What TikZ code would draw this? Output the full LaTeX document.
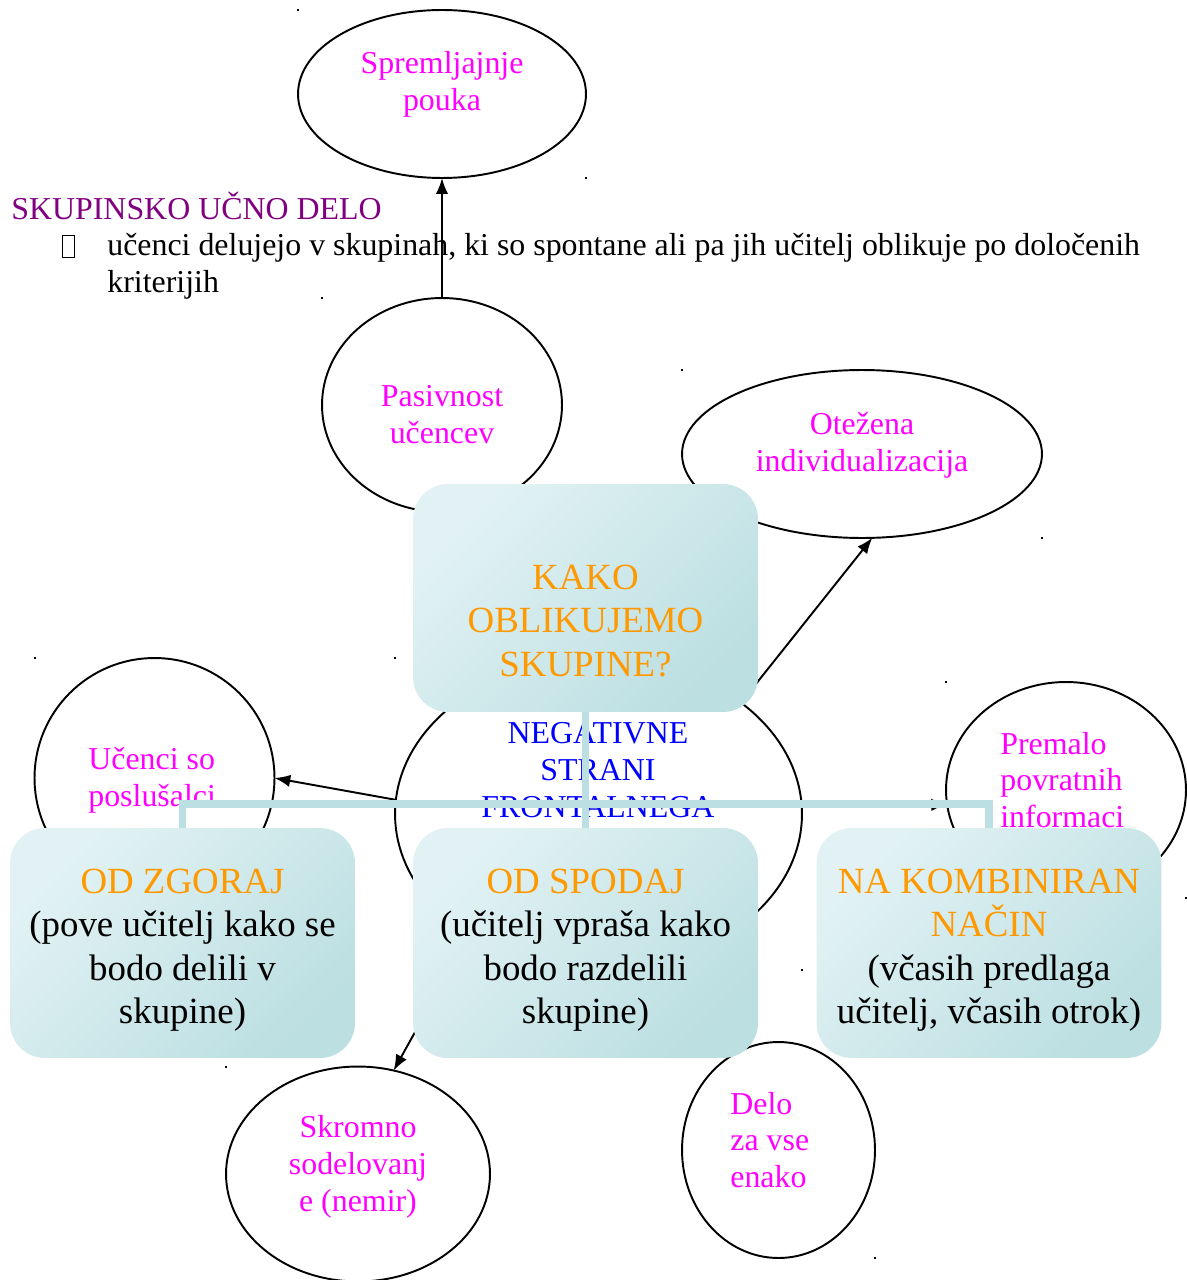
\documentclass[tikz,border=0pt]{standalone}
\usepackage{fontspec}
\setmainfont{Liberation Serif}
\usetikzlibrary{shapes.geometric, arrows.meta}
\definecolor{ngmagenta}{RGB}{255, 0, 255}
\definecolor{ngorange}{RGB}{255, 153, 0}
\definecolor{ngblue}{RGB}{0, 0, 255}
\definecolor{ngpurple}{RGB}{128, 0, 128}
\definecolor{boxlight}{RGB}{226, 242, 244}
\definecolor{boxdark}{RGB}{188, 223, 226}
\definecolor{linkteal}{RGB}{187, 223, 226}
\newcommand{\ellfont}{\fontsize{18.15pt}{21pt}\selectfont}
\newcommand{\boxfont}{\fontsize{21pt}{24.6pt}\selectfont}
\pgfdeclarelayer{bg}
\pgfdeclarelayer{links}
\pgfsetlayers{bg,links,main}

\begin{document}
\begin{tikzpicture}[x=0.02cm, y=-0.02cm,
  bubble/.style={ellipse, draw=black, line width=1.1pt, inner sep=0pt, outer sep=0pt},
  bubbletext/.style={font=\ellfont, text=ngmagenta, inner sep=0pt},
  groupbox/.style={rounded corners=0.7cm, top color=boxlight, bottom color=boxdark, shading angle=45,
    minimum width=6.9cm, inner sep=0pt, font=\boxfont, align=center},
  linkline/.style={draw=linkteal, line width=4.5pt, line join=miter},
  arrowline/.style={line width=1.1pt, -{Latex[length=9pt, width=7pt]}},
  cornerdot/.style={fill=black}]
\useasboundingbox (0,0) rectangle (1186,1280);

% Boxes (top layer)
\node[groupbox, minimum height=4.56cm] (kako) at (585.5,598) {};
\node[font=\boxfont, text=ngorange, align=center, inner sep=0pt] (kakotxt) at (585.5,621) {KAKO\\OBLIKUJEMO\\SKUPINE?};
\node[groupbox, minimum height=4.6cm] (zgoraj) at (182.5,943)
  {\rule{0pt}{22pt}\textcolor{ngorange}{OD ZGORAJ}\\(pove učitelj kako se\\bodo delili v\\skupine)};
\node[groupbox, minimum height=4.6cm] (spodaj) at (585.5,943)
  {\rule{0pt}{22pt}\textcolor{ngorange}{OD SPODAJ}\\(učitelj vpraša kako\\bodo razdelili\\skupine)};
\node[groupbox, minimum height=4.6cm] (kombi) at (989,943)
  {\rule{0pt}{22pt}\textcolor{ngorange}{NA KOMBINIRAN}\\\textcolor{ngorange}{NAČIN}\\(včasih predlaga\\učitelj, včasih otrok)};

\begin{pgfonlayer}{bg}
% Bubbles
\node[bubble, minimum width=5.76cm, minimum height=3.36cm] (sprem) at (442,94) {};
\node[bubble, minimum width=4.8cm, minimum height=4.28cm] (pas) at (442,405) {};
\node[bubble, minimum width=7.2cm, minimum height=3.36cm] (otez) at (862,454) {};
\node[bubble, minimum width=8.14cm, minimum height=6.24cm] (neg) at (598.5,814) {};
\node[bubble, minimum width=4.8cm, minimum height=4.8cm] (uc) at (154.5,778) {};
\node[bubble, minimum width=4.8cm, minimum height=4.32cm] (prem) at (1066,790) {};
\node[bubble, minimum width=5.28cm, minimum height=4.3cm] (skrom) at (358,1174) {};
\node[bubble, minimum width=3.86cm, minimum height=4.32cm] (delo) at (778.5,1150) {};

% Bubble texts
\node[bubbletext, align=center] (spremtxt) at (442,84) {Spremljajnje\\pouka};
\node[bubbletext, align=center] (pastxt) at (442,415) {Pasivnost\\učencev};
\node[bubbletext, align=center] (oteztxt) at (862,445) {Otežena\\individualizacija};
\node[bubbletext, align=left, anchor=west] (uctxt) at (88,780) {Učenci so\\poslušalci};
\node[bubbletext, align=left, anchor=west] (premtxt) at (1000,780) {Premalo\\povratnih\\informaci};
\node[bubbletext, align=center] (skromtxt) at (358,1167) {Skromno\\sodelovanj\\e (nemir)};
\node[bubbletext, align=left, anchor=west] (delotxt) at (730,1140) {Delo\\za vse\\enako};
\node[font=\ellfont, text=ngblue, align=center, inner sep=0pt] (negtxt) at (598,770) {NEGATIVNE\\STRANI\\FRONTALNEGA};

% Heading and bullet
\node[font=\ellfont, text=ngpurple, anchor=west, inner sep=0pt] (title) at (11,206) {SKUPINSKO UČNO DELO};
\node[draw, line width=0.5pt, minimum width=0.24cm, minimum height=0.44cm, inner sep=0pt] (tofu) at (68,246) {};
\node[font=\ellfont, anchor=west, align=left, inner sep=0pt] (bullet) at (107,266)
  {učenci delujejo v skupinah, ki so spontane ali pa jih učitelj oblikuje po določenih\\kriterijih};

% Corner marks
\foreach \e in {sprem,pas,otez,neg,uc,prem,skrom,delo} {
  \fill[cornerdot] (\e.west |- \e.north) ++(-1,-1) rectangle ++(2,2);
  \fill[cornerdot] (\e.east |- \e.south) ++(-1,-1) rectangle ++(2,2);
}

% Arrows
\draw[arrowline] (pas.north) -- (sprem.south);
\draw[arrowline] (neg.38) -- (otez.-83);
\draw[arrowline] (neg.176) -- (uc.east);
\draw[arrowline] (neg.2.8) -- (prem.187);
\draw[arrowline] (neg.223) -- (skrom.71);
\end{pgfonlayer}

\begin{pgfonlayer}{links}
\coordinate (bus) at (585.5,804);
\draw[linkline] (kako.south) -- (spodaj.north);
\draw[linkline] (zgoraj.north) |- (bus) -| (kombi.north);
\end{pgfonlayer}
\end{tikzpicture}
\end{document}
